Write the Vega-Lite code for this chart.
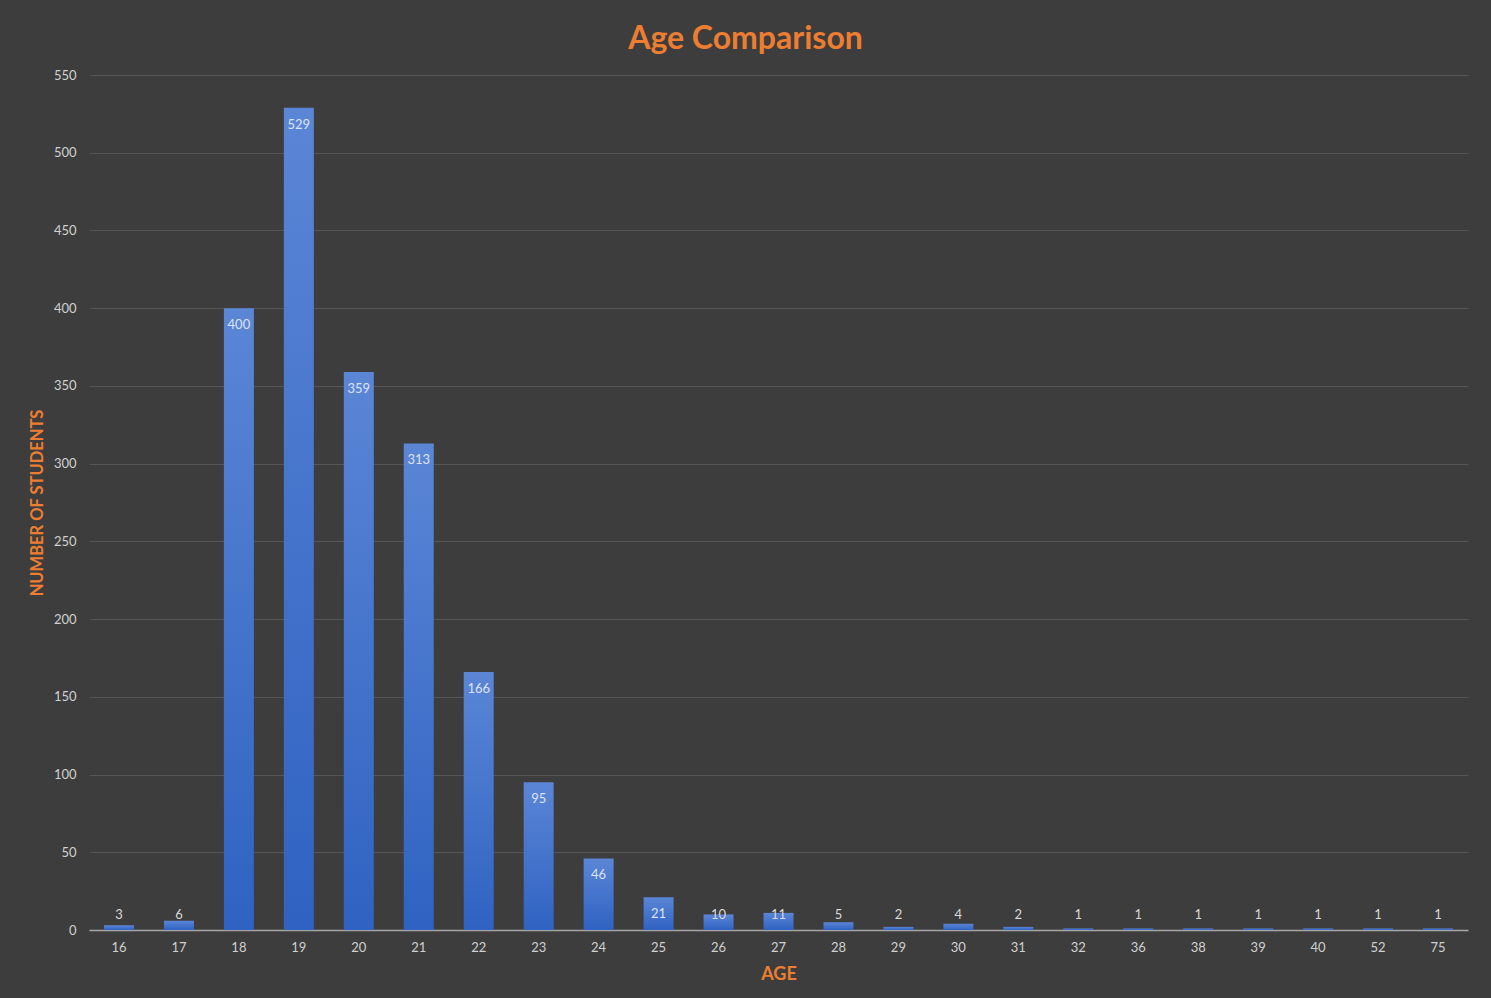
{
  "$schema": "https://vega.github.io/schema/vega-lite/v6.json",
  "autosize": {"type": "none"},
  "width": 1379,
  "height": 855,
  "padding": {"left": 89, "top": 75, "right": 23, "bottom": 68},
  "background": "#3d3d3d",
  "config": {
    "font": "Lato",
    "view": {"stroke": null},
    "axis": {"labelFont": "Lato", "titleFont": "Lato"}
  },
  "title": {
    "text": "Age Comparison",
    "color": "#ed7d31",
    "fontSize": 32,
    "fontWeight": "bold",
    "font": "Lato",
    "anchor": "middle",
    "dx": -33,
    "offset": 13
  },
  "data": {
    "values": [
      {"age": "16", "students": 3},
      {"age": "17", "students": 6},
      {"age": "18", "students": 400},
      {"age": "19", "students": 529},
      {"age": "20", "students": 359},
      {"age": "21", "students": 313},
      {"age": "22", "students": 166},
      {"age": "23", "students": 95},
      {"age": "24", "students": 46},
      {"age": "25", "students": 21},
      {"age": "26", "students": 10},
      {"age": "27", "students": 11},
      {"age": "28", "students": 5},
      {"age": "29", "students": 2},
      {"age": "30", "students": 4},
      {"age": "31", "students": 2},
      {"age": "32", "students": 1},
      {"age": "36", "students": 1},
      {"age": "38", "students": 1},
      {"age": "39", "students": 1},
      {"age": "40", "students": 1},
      {"age": "52", "students": 1},
      {"age": "75", "students": 1}
    ]
  },
  "encoding": {
    "x": {
      "field": "age",
      "type": "ordinal",
      "sort": null,
      "scale": {"paddingInner": 0.5, "paddingOuter": 0.25},
      "axis": {
        "title": "AGE",
        "titleColor": "#ed7d31",
        "titleFontSize": 18,
        "titleFontWeight": "bold",
        "titlePadding": 11,
        "labelAngle": 0,
        "labelColor": "#d0d0d0",
        "labelFontSize": 13,
        "labelPadding": 11,
        "ticks": false,
        "domainColor": "#a6a6a6",
        "domainWidth": 1.5
      }
    }
  },
  "layer": [
    {
      "mark": {
        "type": "bar",
        "fill": {
          "gradient": "linear",
          "x1": 0, "y1": 0, "x2": 0, "y2": 1,
          "stops": [
            {"offset": 0, "color": "#5b86d6"},
            {"offset": 1, "color": "#2f62c2"}
          ]
        }
      },
      "encoding": {
        "y": {
          "field": "students",
          "type": "quantitative",
          "scale": {"domain": [0, 550], "nice": false},
          "axis": {
            "title": "NUMBER OF STUDENTS",
            "titleColor": "#ed7d31",
            "titleFontSize": 16.5,
            "titleFontWeight": "bold",
            "titlePadding": 8,
            "values": [0, 50, 100, 150, 200, 250, 300, 350, 400, 450, 500, 550],
            "labelColor": "#d0d0d0",
            "labelFontSize": 13,
            "labelPadding": 13,
            "ticks": false,
            "domain": false,
            "gridColor": "#565656",
            "gridWidth": 1
          }
        }
      }
    },
    {
      "transform": [{"filter": "datum.students >= 20"}],
      "mark": {"type": "text", "baseline": "middle", "dy": 17, "fontSize": 13, "color": "#dde3f2"},
      "encoding": {
        "y": {"field": "students", "type": "quantitative"},
        "text": {"field": "students", "type": "quantitative"}
      }
    },
    {
      "transform": [{"filter": "datum.students < 20"}],
      "mark": {"type": "text", "baseline": "middle", "dy": -15, "fontSize": 13, "color": "#d9d9d9"},
      "encoding": {
        "y": {"datum": 0, "type": "quantitative"},
        "text": {"field": "students", "type": "quantitative"}
      }
    }
  ]
}
